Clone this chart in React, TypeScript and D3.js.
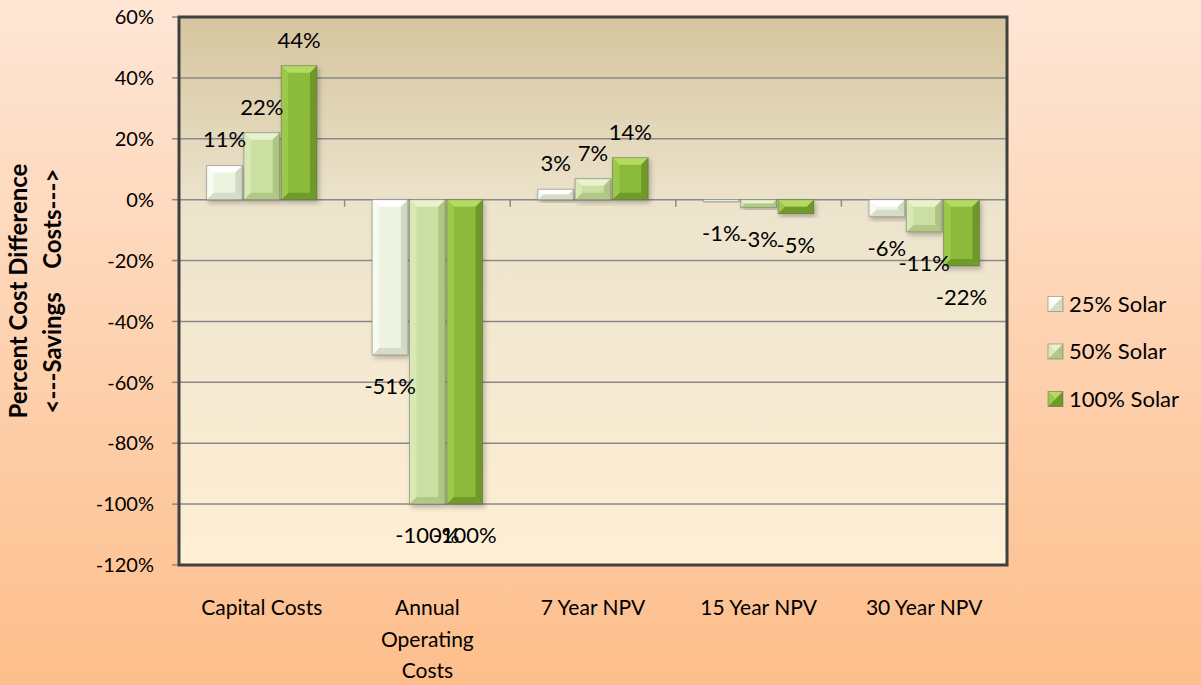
import * as d3 from 'd3';

const categories = ['Capital Costs', 'Annual Operating Costs', '7 Year NPV', '15 Year NPV', '30 Year NPV'];
const categoryLines = [['Capital Costs'], ['Annual', 'Operating', 'Costs'], ['7 Year NPV'], ['15 Year NPV'], ['30 Year NPV']];
const seriesNames = ['25% Solar', '50% Solar', '100% Solar'];
const solar25 = [0.112, -0.51, 0.034, -0.007, -0.056];
const solar50 = [0.22, -1.0, 0.069, -0.026, -0.106];
const solar100 = [0.44, -1.0, 0.138, -0.046, -0.218];
const yTicks = [0.6, 0.4, 0.2, 0, -0.2, -0.4, -0.6, -0.8, -1.0, -1.2];

const seriesValues = [solar25, solar50, solar100];

// bevel shades per series: face, top, bottom, left, right
const shades = [
  { face: '#eef2e1', top: '#ffffff', bottom: '#d6ddc6', left: '#f8fbf0', right: '#d2d9c2' },
  { face: '#cadfa1', top: '#e8f2cf', bottom: '#b1c886', left: '#d8e9b6', right: '#aec584' },
  { face: '#8cba3b', top: '#b4da62', bottom: '#6f9a2b', left: '#9cc84b', right: '#6e982b' },
];

const W = 1201;
const H = 685;
const plot = { left: 179, right: 1007, top: 17, bottom: 565 };
const FONT = 'Lato, "Open Sans", sans-serif';

const pct = (v: number) => `${Math.round(v * 100)}%`;

function Bevel({ x, y, w, h, s, b }: { x: number; y: number; w: number; h: number; s: typeof shades[0]; b: number }) {
  const bb = Math.max(0, Math.min(b, h / 2, w / 2));
  const pts = (arr: number[][]) => arr.map(p => p.join(',')).join(' ');
  return (
    <g>
      <rect x={x} y={y} width={w} height={h} fill={s.face} />
      <polygon points={pts([[x, y], [x + w, y], [x + w - bb, y + bb], [x + bb, y + bb]])} fill={s.top} />
      <polygon points={pts([[x, y + h], [x + w, y + h], [x + w - bb, y + h - bb], [x + bb, y + h - bb]])} fill={s.bottom} />
      <polygon points={pts([[x, y], [x + bb, y + bb], [x + bb, y + h - bb], [x, y + h]])} fill={s.left} />
      <polygon points={pts([[x + w, y], [x + w - bb, y + bb], [x + w - bb, y + h - bb], [x + w, y + h]])} fill={s.right} />
      <rect x={x} y={y} width={w} height={h} fill="none" stroke="rgba(90,90,90,0.45)" strokeWidth={1} />
    </g>
  );
}

export default function App() {
  const x0 = d3.scaleBand<string>().domain(categories).range([plot.left, plot.right]).padding(0);
  const x1 = d3.scaleBand<string>()
    .domain(seriesNames)
    .range([0, x0.bandwidth()])
    .paddingInner(0.04)
    .paddingOuter(0.74);
  const y = d3.scaleLinear().domain([-1.2, 0.6]).range([plot.bottom, plot.top]);

  const bars = categories.flatMap((c, ci) =>
    seriesNames.map((sn, si) => {
      const v = seriesValues[si][ci];
      const bx = (x0(c) || 0) + (x1(sn) || 0);
      const y0 = y(0);
      const yv = y(v);
      return { c, sn, si, v, x: bx, y: Math.min(y0, yv), w: x1.bandwidth(), h: Math.abs(yv - y0) };
    })
  );

  return (
    <div style={{ position: 'absolute', left: 0, top: 0 }}>
      <svg width={W} height={H} style={{ display: 'block', fontFamily: FONT }}>
        <defs>
          <linearGradient id="bg" x1="0" y1="0" x2="0" y2="1">
            <stop offset="0" stopColor="#fee6d5" />
            <stop offset="1" stopColor="#fdbe8b" />
          </linearGradient>
          <linearGradient id="plotbg" x1="0" y1="0" x2="0" y2="1">
            <stop offset="0" stopColor="#d5c59e" />
            <stop offset="0.35" stopColor="#ede4cd" />
            <stop offset="1" stopColor="#feefd5" />
          </linearGradient>
          <filter id="shadow" x="-20%" y="-20%" width="150%" height="150%">
            <feDropShadow dx="2" dy="3" stdDeviation="2.5" floodColor="#000" floodOpacity="0.25" />
          </filter>
        </defs>
        <rect x={0} y={0} width={W} height={H} fill="url(#bg)" />
        <rect x={plot.left} y={plot.top} width={plot.right - plot.left} height={plot.bottom - plot.top} fill="url(#plotbg)" />

        {/* gridlines + y ticks */}
        {yTicks.map(t => (
          <g key={t}>
            <line x1={plot.left} x2={plot.right} y1={y(t)} y2={y(t)} stroke="#8a8a8a" strokeWidth={1.5} />
            <line x1={plot.left - 7} x2={plot.left} y1={y(t)} y2={y(t)} stroke="#8a8a8a" strokeWidth={1.5} />
            <text x={154} y={y(t)} dy="0.36em" textAnchor="end" fontSize={20} fill="#000">{pct(t)}</text>
          </g>
        ))}

        {/* category ticks on zero line */}
        {categories.map(c => (
          <line key={c} x1={x0(c)} x2={x0(c)} y1={y(0)} y2={y(0) + 7} stroke="#8a8a8a" strokeWidth={1.5} />
        ))}

        {/* bars */}
        {bars.map(d => (
          <g key={d.c + d.sn} filter="url(#shadow)">
            <Bevel x={d.x} y={d.y} w={d.w} h={d.h} s={shades[d.si]} b={7} />
          </g>
        ))}

        {/* data labels */}
        {bars.map(d => (
          <text
            key={'l' + d.c + d.sn}
            x={d.x + d.w / 2}
            y={d.v >= 0 ? d.y - 26 : d.y + d.h + 31}
            dy="0.36em"
            textAnchor="middle"
            fontSize={22}
            fill="#000"
          >
            {pct(d.v)}
          </text>
        ))}

        {/* plot frame */}
        <rect
          x={plot.left}
          y={plot.top}
          width={plot.right - plot.left}
          height={plot.bottom - plot.top}
          fill="none"
          stroke="#404040"
          strokeWidth={3}
        />

        {/* category labels */}
        {categories.map((c, i) => (
          <text key={'c' + c} textAnchor="middle" fontSize={21} fill="#000">
            {categoryLines[i].map((ln, li) => (
              <tspan key={li} x={(x0(c) || 0) + x0.bandwidth() / 2} y={615 + li * 31.5}>{ln}</tspan>
            ))}
          </text>
        ))}

        {/* y-axis title */}
        <text transform="translate(27,291) rotate(-90)" textAnchor="middle" fontSize={24} fontWeight="bold" fill="#000">
          Percent Cost Difference
        </text>
        <text
          transform="translate(61,291) rotate(-90)"
          textAnchor="middle"
          fontSize={24}
          fontWeight="bold"
          fill="#000"
          style={{ whiteSpace: 'pre' }}
        >
          {'<---Savings    Costs--->'}
        </text>

        {/* legend */}
        {seriesNames.map((sn, i) => {
          const cy = 304 + i * 47.5;
          return (
            <g key={'lg' + sn}>
              <Bevel x={1048} y={cy - 7.5} w={15} h={15} s={shades[i]} b={7.5} />
              <text x={1069} y={cy} dy="0.36em" fontSize={22} fill="#000">{sn}</text>
            </g>
          );
        })}
      </svg>
    </div>
  );
}
